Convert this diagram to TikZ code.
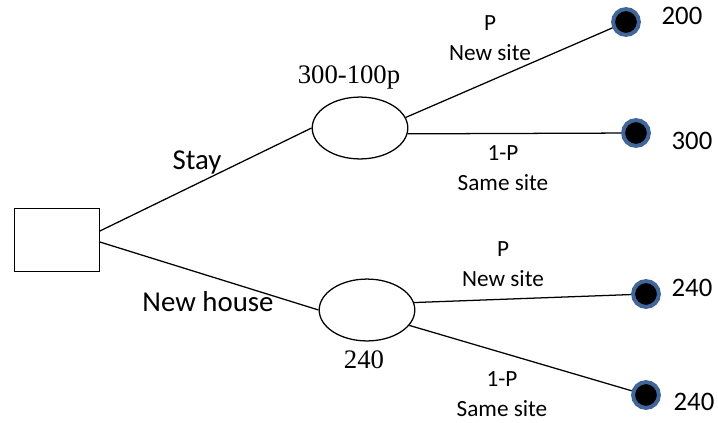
\documentclass[tikz,border=0pt]{standalone}
\usepackage{fontspec}
\setmainfont{Liberation Serif}
\setsansfont{Carlito}
\usepackage{tikz}
\usetikzlibrary{shapes.geometric}
\definecolor{ink}{HTML}{000000}
\definecolor{ringblue}{HTML}{41679A}
\tikzset{
  decision/.style={draw=ink,line width=0.9pt,minimum width=60pt,minimum height=45pt,inner sep=0pt},
  chance/.style={draw=ink,line width=0.9pt,ellipse,minimum width=68pt,minimum height=44pt,inner sep=0pt},
  leaf/.style={circle,fill=black,draw=ringblue,line width=2.8pt,minimum size=18.4pt,inner sep=0pt},
  branch/.style={draw=ink,line width=0.9pt},
  act/.style={font=\sffamily\fontsize{20.5}{24}\selectfont},
  prob/.style={font=\sffamily\fontsize{16.5}{21}\selectfont,align=center},
  pay/.style={font=\sffamily\fontsize{19}{22}\selectfont},
  val/.style={font=\rmfamily\fontsize{19}{22}\selectfont}
}
\begin{document}
\begin{tikzpicture}[x=0.025cm,y=-0.025cm]
  \useasboundingbox (0,0) rectangle (718,422);
  \node[decision] (root) at (57,240) {};
  \node[chance] (stay) at (360,128) {};
  \node[chance] (move) at (367,310) {};

  \node[leaf] (t1) at (626,22) {};
  \node[leaf] (t2) at (636,133) {};
  \node[leaf] (t3) at (646,294) {};
  \node[leaf] (t4) at (646,395) {};

  \draw[branch] ([yshift=9pt*0.709]root.east) -- (stay.west);
  \draw[branch] ([yshift=-2pt*0.709]root.east) -- (move.west);
  \draw[branch] (stay.13) -- (t1);
  \draw[branch] (stay.-7) -- (t2);
  \draw[branch] (move.9) -- (t3);
  \draw[branch] (move.-20) -- (t4);

  \node[act] (lstay) at (197,162) {Stay};
  \node[act] (lmove) at (208,302) {New house};
  \node[val] (vstay) at (349,77) {300-100p};
  \node[val] (vmove) at (364,360) {240};

  \node[prob] (p1) at (490,38) {P\\New site};
  \node[prob] (p2) at (503,168) {1-P\\Same site};
  \node[prob] (p3) at (503,264) {P\\New site};
  \node[prob] (p4) at (502,394) {1-P\\Same site};

  \node[pay] (v1) at (682,16) {200};
  \node[pay] (v2) at (692,141) {300};
  \node[pay] (v3) at (692,288) {240};
  \node[pay] (v4) at (694,402) {240};
\end{tikzpicture}
\end{document}
